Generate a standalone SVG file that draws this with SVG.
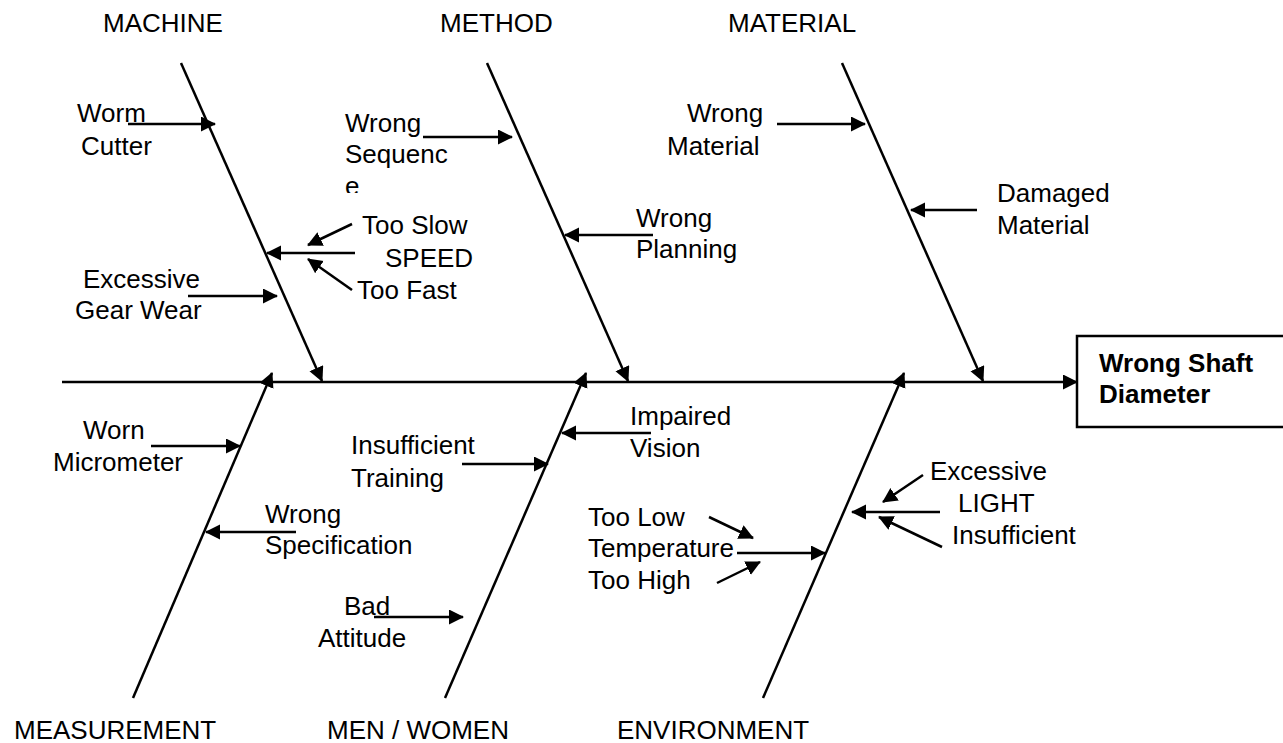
<svg xmlns="http://www.w3.org/2000/svg" width="1283" height="743" viewBox="0 0 1283 743">
<style>
text{font-family:"Liberation Sans",Arial,sans-serif;font-size:26px;fill:#000}
.b{font-weight:bold;font-size:26px}
.ln{stroke:#000;stroke-width:2.5;fill:none}
.ar{marker-end:url(#ah)}
</style>
<defs>
<marker id="ah" markerUnits="userSpaceOnUse" markerWidth="16" markerHeight="16" refX="14" refY="7.5" orient="auto" viewBox="0 0 16 16">
<path d="M0,0 L15,7.5 L0,15 z" fill="#000"/>
</marker>
<clipPath id="clipE"><rect x="330" y="170" width="100" height="23"/></clipPath>
</defs>
<rect width="1283" height="743" fill="#fff"/>
<g id="connectors">
<line class="ln ar" x1="62" y1="382" x2="1077" y2="382"/>
<line class="ln ar" x1="181" y1="63" x2="322" y2="381"/>
<line class="ln ar" x1="487" y1="63" x2="628" y2="381"/>
<line class="ln ar" x1="842" y1="63" x2="983" y2="381"/>
<line class="ln ar" x1="133" y1="698" x2="272" y2="373"/>
<line class="ln ar" x1="445" y1="698" x2="586" y2="373"/>
<line class="ln ar" x1="763" y1="698" x2="904" y2="373"/>
<line class="ln ar" x1="128" y1="124" x2="215" y2="124"/>
<line class="ln ar" x1="355" y1="253" x2="267" y2="253"/>
<line class="ln ar" x1="352" y1="224" x2="308" y2="245"/>
<line class="ln ar" x1="352" y1="290" x2="308" y2="259"/>
<line class="ln ar" x1="188" y1="296" x2="277" y2="296"/>
<line class="ln ar" x1="423" y1="137" x2="512" y2="137"/>
<line class="ln ar" x1="653" y1="235" x2="565" y2="235"/>
<line class="ln ar" x1="777" y1="124" x2="865" y2="124"/>
<line class="ln ar" x1="977" y1="210" x2="911" y2="210"/>
<line class="ln ar" x1="151" y1="446" x2="240" y2="446"/>
<line class="ln ar" x1="296" y1="532" x2="206" y2="532"/>
<line class="ln ar" x1="374" y1="617" x2="463" y2="617"/>
<line class="ln ar" x1="462" y1="464" x2="548" y2="464"/>
<line class="ln ar" x1="651" y1="433" x2="562" y2="433"/>
<line class="ln ar" x1="737" y1="553" x2="825" y2="553"/>
<line class="ln ar" x1="709" y1="517" x2="753" y2="538"/>
<line class="ln ar" x1="717" y1="583" x2="760" y2="562"/>
<line class="ln ar" x1="940" y1="512" x2="852" y2="512"/>
<line class="ln ar" x1="923" y1="475" x2="883" y2="502"/>
<line class="ln ar" x1="942" y1="547" x2="879" y2="517"/>
</g>
<g id="machine">
<text x="103" y="32">MACHINE</text>
<text x="77" y="122">Worm</text>
<text x="81" y="155">Cutter</text>
<text x="362" y="234">Too Slow</text>
<text x="385" y="267">SPEED</text>
<text x="357" y="299">Too Fast</text>
<text x="83" y="288">Excessive</text>
<text x="75" y="319">Gear Wear</text>
</g>
<g id="method">
<text x="440" y="32">METHOD</text>
<text x="345" y="132">Wrong</text>
<text x="345" y="163">Sequenc</text>
<text x="345" y="195" clip-path="url(#clipE)">e</text>
<text x="636" y="227">Wrong</text>
<text x="636" y="258">Planning</text>
</g>
<g id="material">
<text x="728" y="32">MATERIAL</text>
<text x="687" y="122">Wrong</text>
<text x="667" y="155">Material</text>
<text x="997" y="202">Damaged</text>
<text x="997" y="234">Material</text>
</g>
<g id="measurement">
<text x="14" y="739">MEASUREMENT</text>
<text x="83" y="439">Worn</text>
<text x="53" y="471">Micrometer</text>
<text x="265" y="523">Wrong</text>
<text x="265" y="554">Specification</text>
</g>
<g id="men-women">
<text x="327" y="739">MEN / WOMEN</text>
<text x="351" y="454">Insufficient</text>
<text x="351" y="487">Training</text>
<text x="630" y="425">Impaired</text>
<text x="630" y="457">Vision</text>
<text x="344" y="615">Bad</text>
<text x="318" y="647">Attitude</text>
</g>
<g id="environment">
<text x="617" y="739">ENVIRONMENT</text>
<text x="588" y="526">Too Low</text>
<text x="588" y="557">Temperature</text>
<text x="588" y="589">Too High</text>
<text x="930" y="480">Excessive</text>
<text x="958" y="512">LIGHT</text>
<text x="952" y="544">Insufficient</text>
</g>
<g id="effect">
<rect x="1077" y="336" width="220" height="91" fill="#fff" stroke="#000" stroke-width="2.5"/>
<text class="b" x="1099" y="372">Wrong Shaft</text>
<text class="b" x="1099" y="403">Diameter</text>
</g>
</svg>
